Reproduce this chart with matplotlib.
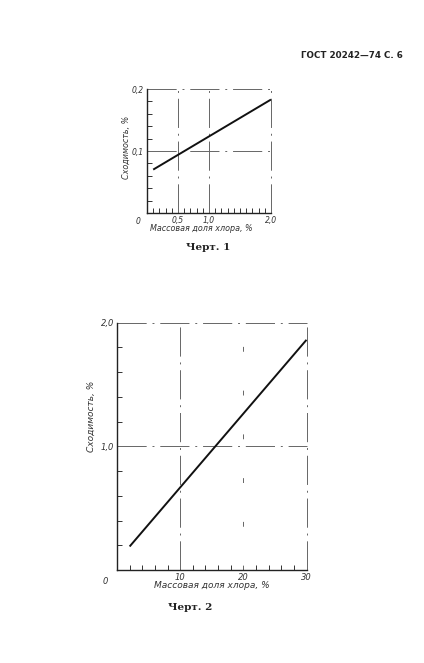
import matplotlib
matplotlib.use("Agg")
import matplotlib.pyplot as plt

# --- data ---
x1 = [0.1, 2.0]
y1 = [0.07, 0.183]
x1_major = [0.5, 1.0, 2.0]
x1_labels = ["0,5", "1,0", "2,0"]
y1_major = [0.1, 0.2]
y1_labels = ["0,1", "0,2"]

x2 = [2, 30]
y2 = [0.19, 1.86]
x2_major = [10, 20, 30]
x2_labels = ["10", "20", "30"]
y2_major = [1.0, 2.0]
y2_labels = ["1,0", "2,0"]

XLABEL = "Массовая доля хлора, %"
YLABEL = "Сходимость, %"
HEADER = "ГОСТ 20242—74 С. 6"

W, H = 424, 663
GRID = dict(color="#666666", lw=0.7, linestyle=(0, (30, 6, 2, 6)))
SPARSE = dict(color="#666666", lw=0.7, linestyle=(0, (5, 40)))
LBL = dict(style="italic", color="#333333")


def box(l, t, r, b):
    """pixel box -> figure fraction rect"""
    return [l / W, 1 - b / H, (r - l) / W, (b - t) / H]


def setup(ax, xmax, ymax, xmaj, xlab, ymaj, ylab, xminor, yminor, fs, sparse=()):
    ax.set_xlim(0, xmax)
    ax.set_ylim(0, ymax)
    for s in ("top", "right"):
        ax.spines[s].set_visible(False)
    for s in ("left", "bottom"):
        ax.spines[s].set_linewidth(1.0)
        ax.spines[s].set_color("#222222")
    ax.set_xticks(xmaj)
    ax.set_xticklabels(xlab, fontsize=fs, **LBL)
    ax.set_yticks(ymaj)
    ax.set_yticklabels(ylab, fontsize=fs, **LBL)
    ax.set_xticks(xminor, minor=True)
    ax.set_yticks(yminor, minor=True)
    ax.tick_params(which="both", direction="in", length=3.5, width=0.7,
                   color="#333333", pad=2)
    ax.tick_params(which="major", length=0)
    for v in xmaj:
        style = SPARSE if v in sparse else GRID
        ax.axvline(v, **style, clip_on=False)
    for v in ymaj:
        ax.axhline(v, **GRID, clip_on=False)
    ax.text(-0.05, -0.03, "0", transform=ax.transAxes, ha="right", va="top",
            fontsize=fs, **LBL)


fig = plt.figure(figsize=(W / 100, H / 100), dpi=100)
fig.patch.set_facecolor("white")

# Черт. 1
ax1 = fig.add_axes(box(147, 89, 271, 213))
setup(ax1, 2.0, 0.2, x1_major, x1_labels, y1_major, y1_labels,
      [i / 10 for i in range(1, 20)], [i / 50 for i in range(1, 10)], 5.5)
ax1.plot(x1, y1, color="#111111", lw=1.4, solid_capstyle="butt")
ax1.set_xlabel(XLABEL, fontsize=5.8, **LBL)
ax1.xaxis.set_label_coords(0.44, -0.09)
ax1.set_ylabel(YLABEL, fontsize=5.8, **LBL)
ax1.yaxis.set_label_coords(-0.13, 0.53)

# Черт. 2
ax2 = fig.add_axes(box(117, 322.5, 306.5, 570))
setup(ax2, 30, 2.0, x2_major, x2_labels, y2_major, y2_labels,
      list(range(2, 30, 2)), [i / 5 for i in range(1, 10)], 6, sparse=(20,))
ax2.plot(x2, y2, color="#111111", lw=1.4, solid_capstyle="butt")
ax2.set_xlabel(XLABEL, fontsize=6.5, **LBL)
ax2.xaxis.set_label_coords(0.5, -0.045)
ax2.set_ylabel(YLABEL, fontsize=6.5, **LBL)
ax2.yaxis.set_label_coords(-0.11, 0.62)

fig.text(352 / W, 1 - 55 / H, HEADER, ha="center", va="center",
         fontsize=6.3, fontweight="bold", color="#222222")
fig.text(208 / W, 1 - 248 / H, "Черт. 1", ha="center", va="center",
         fontsize=7.5, family="DejaVu Serif", fontweight="bold", color="#222222")
fig.text(190 / W, 1 - 607 / H, "Черт. 2", ha="center", va="center",
         fontsize=7.5, family="DejaVu Serif", fontweight="bold", color="#222222")

fig.savefig("out.png", dpi=100)
